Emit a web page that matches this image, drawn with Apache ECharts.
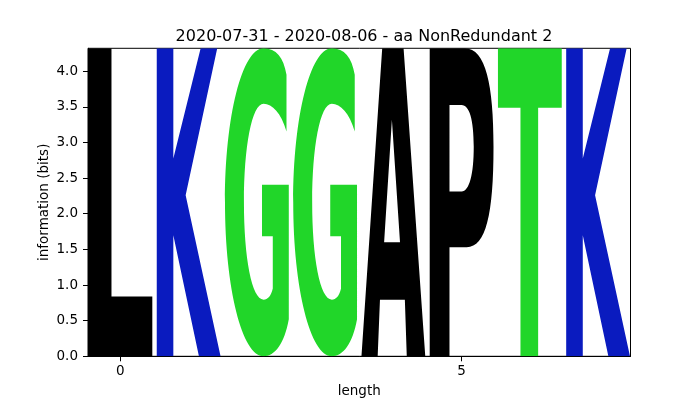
<!DOCTYPE html>
<html>
<head>
<meta charset="utf-8">
<script src="https://cdn.jsdelivr.net/npm/echarts@6/dist/echarts.min.js"></script>
<style>
html, body { margin: 0; padding: 0; background: #fff; }
#main { width: 700px; height: 400px; }
</style>
</head>
<body>
<div id="main"></div>
<script>
// logo columns
var positions = [0, 1, 2, 3, 4, 5, 6, 7];
var letters = ['L', 'K', 'G', 'G', 'A', 'P', 'T', 'K'];
var heights = [4.32, 4.32, 4.32, 4.32, 4.32, 4.32, 4.32, 4.32];
var xTicks = [0, 5];
var yTicks = [0, 0.5, 1.0, 1.5, 2.0, 2.5, 3.0, 3.5, 4.0];

var colors = { L: '#000000', A: '#000000', P: '#000000', K: '#0a1bbf', G: '#21d629', T: '#21d629' };

// glyph outlines in a 100x100 box, stretched to the column
var glyphs = {
	L: 'M0 0 L36 0 L36 80.6 L100 80.6 L100 100 L0 100 Z',
	K: 'M0 0 L26 0 L26 35.8 L68.8 0 L94.8 0 L45.3 47.7 L100 100 L66.1 100 L26 60.7 L26 100 L0 100 Z',
	G: 'M60.5 0 C80 0 92 3 96.4 8.6 L96.4 27 C88 21 74 18 60.5 18 C42 18 29.7 32 29.7 50 ' +
		'C29.7 68 42 81.6 60.5 81.6 C67 81.6 72 80.5 74.9 78 L74.9 61 L58 61 L58 44.3 L100 44.3 ' +
		'L100 88 C93 96 78 100 60.5 100 C27 100 0 78 0 50 C0 22 27 0 60.5 0 Z',
	A: 'M32.5 0 L66 0 L100 100 L71 100 L68 81.6 L29 81.6 L25.4 100 L0 100 Z ' +
		'M47.7 23.2 L35.5 63 L60.4 63 Z',
	P: 'M0 0 L55 0 C88 0 100 12 100 32 C100 54 88 64.6 58 64.6 L31 64.6 L31 100 L0 100 Z ' +
		'M31 18.4 L31 46.5 L50 46.5 C62 46.5 69 41 69 32 C69 23 62 18.4 50 18.4 Z',
	T: 'M0 0 L100 0 L100 19.3 L63 19.3 L63 100 L35.3 100 L35.3 19.3 L0 19.3 Z'
};

var letterWidth = 0.935;

var seriesData = [];
for (var i = 0; i < positions.length; i++) {
	seriesData.push([positions[i], heights[i], i]);
}

var font = 'DejaVu Sans';

var option = {
	animation: false,
	title: {
		text: '2020-07-31 - 2020-08-06 - aa NonRedundant 2',
		left: 359,
		top: 24,
		textAlign: 'center',
		textStyle: { fontFamily: font, fontSize: 16, fontWeight: 'normal', color: '#000' }
	},
	grid: {
		left: 88, right: 69.5, top: 48.3, bottom: 43.7,
		outerBoundsMode: 'none',
		containLabel: false,
		show: true, borderColor: '#000', borderWidth: 1, backgroundColor: 'transparent'
	},
	xAxis: {
		type: 'value',
		min: -0.475,
		max: 7.475,
		name: 'length',
		nameLocation: 'middle',
		nameGap: 28,
		nameMoveOverlap: false,
		nameTextStyle: { fontFamily: font, fontSize: 13.5, color: '#000' },
		axisLine: { show: true, onZero: false, lineStyle: { color: '#000', width: 1 } },
		axisTick: { show: true, length: 5, lineStyle: { color: '#000' }, customValues: xTicks },
		axisLabel: { fontFamily: font, fontSize: 13.5, color: '#000', margin: 8, customValues: xTicks },
		splitLine: { show: false }
	},
	yAxis: {
		type: 'value',
		min: 0,
		max: 4.32,
		name: 'information (bits)',
		nameLocation: 'middle',
		nameGap: 37,
		nameMoveOverlap: false,
		nameTextStyle: { fontFamily: font, fontSize: 13.5, color: '#000' },
		axisLine: { show: true, onZero: false, lineStyle: { color: '#000', width: 1 } },
		axisTick: { show: true, length: 5, lineStyle: { color: '#000' }, customValues: yTicks },
		axisLabel: {
			fontFamily: font, fontSize: 13.5, color: '#000', margin: 10, customValues: yTicks,
			formatter: function (v) { return v.toFixed(1); }
		},
		splitLine: { show: false }
	},
	series: [{
		type: 'custom',
		clip: true,
		data: seriesData,
		renderItem: function (params, api) {
			var pos = api.value(0);
			var h = api.value(1);
			var letter = letters[api.value(2)];
			var p0 = api.coord([pos - letterWidth / 2, h]);
			var p1 = api.coord([pos + letterWidth / 2, 0]);
			return {
				type: 'path',
				shape: {
					pathData: glyphs[letter],
					x: p0[0],
					y: p0[1],
					width: p1[0] - p0[0],
					height: p1[1] - p0[1],
					layout: 'cover'
				},
				style: { fill: colors[letter] }
			};
		}
	}]
};

var chart = echarts.init(document.getElementById('main'));
chart.setOption(option);
</script>
</body>
</html>
